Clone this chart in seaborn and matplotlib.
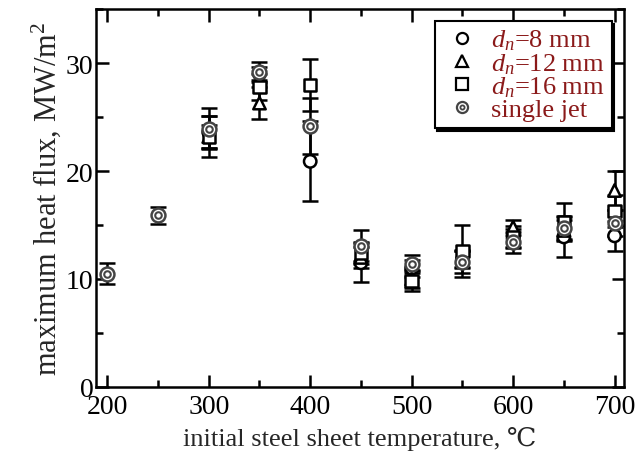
import numpy as np
import pandas as pd
import matplotlib
matplotlib.use("Agg")
import matplotlib.pyplot as plt
import seaborn as sns
from matplotlib.lines import Line2D
from matplotlib.legend_handler import HandlerTuple
from matplotlib.ticker import MultipleLocator

# temperatures, degC
temps = [200, 250, 300, 350, 400, 450, 500, 550, 600, 650, 700]

# maximum heat flux, MW/m2 (nan = not measured)
d8_val = [np.nan, np.nan, 23.6, 29.0, 20.9, 11.5, 11.0, 11.8, 13.8, 13.9, 14.0]
d8_err = [np.nan, np.nan, 1.5, 0.6, 3.7, 1.8, 0.8, 0.8, 0.8, 1.9, 1.4]
d12_val = [np.nan, np.nan, 23.2, 26.3, np.nan, 12.0, 10.0, 11.9, 14.8, 14.5, 18.2]
d12_err = [np.nan, np.nan, 1.1, 1.5, np.nan, 1.0, 0.8, 0.8, 0.7, 1.0, 1.8]
d16_val = [np.nan, np.nan, 23.2, 27.8, 28.0, 12.4, 9.8, 12.6, 13.9, 15.3, 16.3]
d16_err = [np.nan, np.nan, 1.9, 1.2, 2.4, 1.0, 0.9, 2.4, 1.0, 1.7, 1.5]
sj_val = [10.5, 15.9, 23.9, 29.2, 24.2, 13.1, 11.4, 11.6, 13.4, 14.7, 15.2]
sj_err = [1.0, 0.8, 1.9, 0.9, 2.6, 1.4, 0.8, 1.0, 1.0, 1.0, 1.2]

legend_labels = ["$d_n$=8 mm", "$d_n$=12 mm", "$d_n$=16 mm", "single jet"]

sns.set_style("ticks")
plt.rcParams["font.family"] = ["Liberation Serif", "DejaVu Serif"]
plt.rcParams["mathtext.fontset"] = "custom"
plt.rcParams["mathtext.rm"] = "Liberation Serif"
plt.rcParams["mathtext.it"] = "Liberation Serif:italic"

fig = plt.figure(figsize=(6.41, 4.64), dpi=100)
ax = fig.add_axes([0.150, 0.164, 0.823, 0.814])

series = [
    (d8_val, d8_err),
    (d12_val, d12_err),
    (d16_val, d16_err),
    (sj_val, sj_err),
]

# error bars first, markers on top
for vals, errs in series:
    ax.errorbar(temps, vals, yerr=errs, fmt="none", ecolor="black",
                elinewidth=1.8, capsize=6, capthick=1.8, zorder=2)

long = []
for (vals, errs), name in zip(series[:3], ["d8", "d12", "d16"]):
    for t, v in zip(temps, vals):
        if not np.isnan(v):
            long.append({"T": t, "q": v, "set": name})
df = pd.DataFrame(long)

sns.scatterplot(data=df, x="T", y="q", style="set",
                markers={"d8": "o", "d12": "^", "d16": "s"},
                s=80, facecolor="white", edgecolor="black", linewidth=1.8,
                legend=False, ax=ax, zorder=3)

# single jet: double circle
sj = pd.DataFrame({"T": temps, "q": sj_val})
sns.scatterplot(data=sj, x="T", y="q", marker="o", s=100, facecolor="white",
                edgecolor="#444444", linewidth=1.8, legend=False, ax=ax, zorder=4)
sns.scatterplot(data=sj, x="T", y="q", marker="o", s=22, facecolor="white",
                edgecolor="#444444", linewidth=1.5, legend=False, ax=ax, zorder=5)

ax.set_xlim(189, 709)
ax.set_ylim(0, 35)
ax.xaxis.set_major_locator(MultipleLocator(100))
ax.xaxis.set_minor_locator(MultipleLocator(50))
ax.yaxis.set_major_locator(MultipleLocator(10))
ax.yaxis.set_minor_locator(MultipleLocator(5))
ax.tick_params(which="both", direction="in", top=True, right=True,
               width=1.8, colors="black", labelsize=20)
ax.tick_params(axis="x", pad=5)
ax.tick_params(axis="y", pad=2)
ax.tick_params(which="major", length=9)
ax.tick_params(which="minor", length=5)
for sp in ax.spines.values():
    sp.set_linewidth(1.8)
    sp.set_color("black")
    sp.set_visible(True)

ax.set_xlabel("initial steel sheet temperature, \u2103", fontsize=19, labelpad=5)
ax.set_ylabel("maximum heat flux, MW/m$^2$", fontsize=22, labelpad=2)

mk = dict(linestyle="none", markerfacecolor="white", markeredgecolor="black",
          markeredgewidth=1.6, markersize=8)
handles = [
    Line2D([], [], marker="o", **mk),
    Line2D([], [], marker="^", **mk),
    Line2D([], [], marker="s", **mk),
    (Line2D([], [], marker="o", linestyle="none", markerfacecolor="white",
            markeredgecolor="#444444", markeredgewidth=1.6, markersize=8),
     Line2D([], [], marker="o", linestyle="none", markerfacecolor="white",
            markeredgecolor="#444444", markeredgewidth=1.3, markersize=3)),
]
leg = ax.legend(handles, legend_labels, loc="upper right",
                bbox_to_anchor=(0.977, 0.968), borderaxespad=0,
                fontsize=19, frameon=True, fancybox=False,
                shadow={"color": "black", "alpha": 1.0},
                edgecolor="black", handlelength=1.6, handletextpad=0.3,
                labelspacing=-0.05, borderpad=0.25,
                handler_map={tuple: HandlerTuple(ndivide=1, pad=0)})
leg.get_frame().set_linewidth(1.5)
for txt in leg.get_texts():
    txt.set_color("#8b1a1a")

fig.savefig("out.png", dpi=100)
